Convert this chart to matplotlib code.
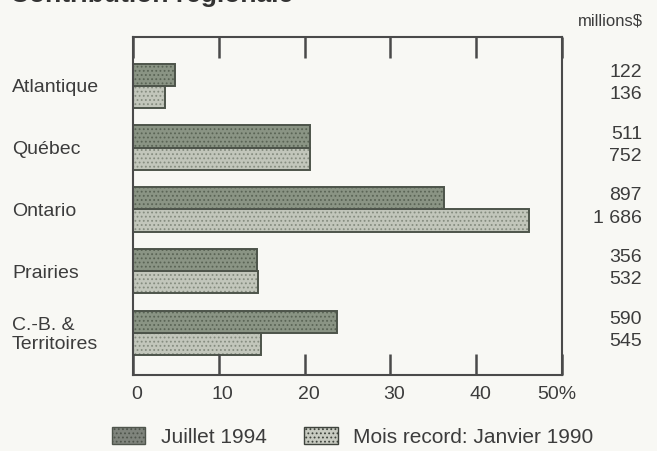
import numpy as np
import matplotlib.pyplot as plt
import matplotlib.patches as mpatches
from matplotlib.transforms import blended_transform_factory, ScaledTranslation

regions = ['Atlantique', 'Québec', 'Ontario', 'Prairies', 'C.-B. &\nTerritoires']
juillet_pct = [4.9, 20.6, 36.2, 14.4, 23.8]
record_pct = [3.7, 20.6, 46.2, 14.6, 14.9]
juillet_mil = ['122', '511', '897', '356', '590']
record_mil = ['136', '752', '1 686', '532', '545']
xticks = [0, 10, 20, 30, 40, 50]
xlabels = ['0', '10', '20', '30', '40', '50%']

txt = '#3c3c3c'
bg = '#f8f8f4'
plt.rcParams['font.family'] = ['Liberation Sans', 'DejaVu Sans']
plt.rcParams['hatch.linewidth'] = 0.8

fig = plt.figure(figsize=(6.57, 4.51), dpi=100, facecolor=bg)
ax = fig.add_axes([133 / 657, 1 - 375 / 451, 429 / 657, 338 / 451])
ax.set_facecolor(bg)

y = np.arange(len(regions))
h = 0.36
# stippled fill, then the outline on top
ax.barh(y - h / 2, juillet_pct, h, color='#8a9484', hatch='....', edgecolor='#5a6455', linewidth=0)
ax.barh(y + h / 2, record_pct, h, color='#c2c6bb', hatch='....', edgecolor='#858c7f', linewidth=0)
ax.barh(y - h / 2, juillet_pct, h, fill=False, edgecolor='#4d544a', linewidth=1.4)
ax.barh(y + h / 2, record_pct, h, fill=False, edgecolor='#4d544a', linewidth=1.4)

ax.set_xlim(0, 50)
ax.set_ylim(4.68, -0.79)
ax.set_yticks([])
ax.set_xticks(xticks)
ax.set_xticklabels(xlabels, fontsize=14, color=txt)
ax.tick_params(axis='x', direction='in', length=15, width=1.8, color='#4a4a4a',
               top=True, pad=8)
# labels in the scan sit a little right of their ticks
for i, lab in enumerate(ax.get_xticklabels()):
    dx = -5 if i == len(xlabels) - 1 else 4
    lab.set_transform(lab.get_transform() + ScaledTranslation(dx / 100, 0, fig.dpi_scale_trans))
for s in ax.spines.values():
    s.set_color('#4a4a4a')
    s.set_linewidth(1.5)

tr = blended_transform_factory(fig.transFigure, ax.transData)
for i, name in enumerate(regions):
    ax.text(12 / 657, i + 0.03, name, transform=tr, ha='left', va='center',
            fontsize=14, color=txt, linespacing=1.15)
    ax.text(642 / 657, i - h / 2 - 0.04, juillet_mil[i], transform=tr, ha='right',
            va='center', fontsize=14, color=txt)
    ax.text(642 / 657, i + h / 2 - 0.04, record_mil[i], transform=tr, ha='right',
            va='center', fontsize=14, color=txt)

fig.text(643 / 657, 1 - 21 / 451, 'millions$', ha='right', va='center', fontsize=12, color=txt)
# the scan cuts the heading, only its lower edge shows
fig.text(10 / 657, 1.01, 'Contribution régionale', ha='left', va='center',
         fontsize=19, fontweight='bold', color='#333333')

patchs = [mpatches.Patch(facecolor='#7f847c', hatch='....', edgecolor='#4f554c', label='Juillet 1994'),
          mpatches.Patch(facecolor='#c8cbc1', hatch='....', edgecolor='#3f443d', label='Mois record: Janvier 1990')]
leg = fig.legend(handles=patchs, loc='center', bbox_to_anchor=(0.537, 0.031), ncol=2,
                 frameon=False, fontsize=15, handlelength=1.6, handleheight=0.87,
                 columnspacing=1.8, handletextpad=0.75)
for t in leg.get_texts():
    t.set_color(txt)

fig.savefig('out.png', dpi=100, facecolor=bg)
